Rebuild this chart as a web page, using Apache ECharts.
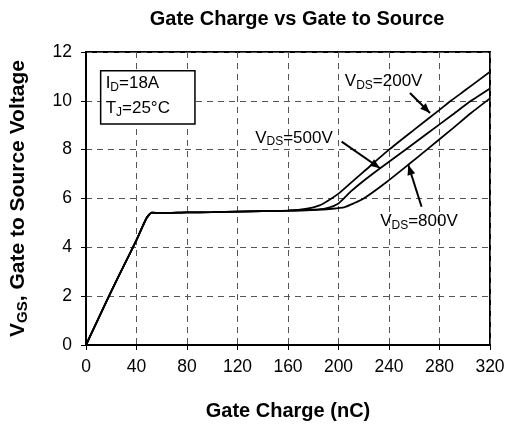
<!DOCTYPE html>
<html>
<head>
<meta charset="utf-8">
<script src="https://cdn.jsdelivr.net/npm/echarts@6/dist/echarts.min.js"></script>
<style>
  html, body { margin: 0; padding: 0; background: #fff; }
  #main { width: 509px; height: 425px; }
</style>
</head>
<body>
<div id="main"></div>
<script>
// shared part: turn-on ramp and Miller plateau
const baseQ = [0, 10, 20, 30, 40, 48, 52, 60, 80, 100, 120, 140, 160];
const baseV = [0, 1.1, 2.2, 3.25, 4.3, 5.2, 5.42, 5.4, 5.43, 5.44, 5.46, 5.48, 5.5];

// tails after the plateau, one per VDS
const q200 = [175, 185, 192, 200, 210, 220, 240, 260, 280, 289, 300, 320];
const v200 = [5.58, 5.72, 5.92, 6.2, 6.65, 7.1, 8.0, 8.82, 9.63, 10.0, 10.42, 11.19];
const q500 = [180, 190, 200, 210, 220, 233, 253, 270, 290, 305, 320];
const v500 = [5.54, 5.6, 5.8, 6.3, 6.73, 7.24, 8.0, 8.65, 9.42, 10.0, 10.51];
const q800 = [180, 195, 205, 212, 220, 235, 255, 270, 290, 305, 320];
const v800 = [5.53, 5.58, 5.65, 5.8, 6.0, 6.55, 7.37, 8.0, 8.85, 9.5, 10.1];

const xTicks = [0, 320, 40];   // min, max, step
const yTicks = [0, 12, 2];

// annotation labels: text, anchor [q, v], arrow from/to [q, v]
const notes = [
  { sub: 'DS', val: '=200V', at: [205, 10.78], from: [256.6, 10.32], to: [272.5, 9.5] },
  { sub: 'DS', val: '=500V', at: [134, 8.48], from: [202.5, 8.33], to: [232.9, 7.24] },
  { sub: 'DS', val: '=800V', at: [233, 5.05], from: [265.8, 5.66], to: [255.3, 7.37] }
];

function pairs(qs, vs) {
  return qs.map((q, i) => [q, vs[i]]);
}

const FONT = 'Liberation Sans, Arial, sans-serif';
const chart = echarts.init(document.getElementById('main'));

function curve(name, qs, vs) {
  return {
    name: name,
    type: 'line',
    showSymbol: false,
    smooth: 0.2,
    data: pairs(baseQ, baseV).concat(pairs(qs, vs)),
    lineStyle: { color: '#000', width: 1.8 },
    animation: false
  };
}

const subRich = {
  b: { fontSize: 17, fontFamily: FONT, color: '#000' },
  s: { fontSize: 12, fontFamily: FONT, color: '#000', verticalAlign: 'bottom', padding: [8, 0, 0, 0] }
};

const option = {
  animation: false,
  title: {
    text: 'Gate Charge vs Gate to Source',
    left: 292,
    textAlign: 'center',
    top: 4,
    textStyle: { fontFamily: FONT, fontSize: 20, fontWeight: 'bold', color: '#000' }
  },
  grid: {
    left: 86, right: 19, top: 52, bottom: 80,
    outerBoundsMode: 'none',
    show: true, borderColor: '#000', borderWidth: 2
  },
  xAxis: {
    type: 'value',
    min: xTicks[0], max: xTicks[1], interval: xTicks[2],
    name: 'Gate Charge (nC)',
    nameLocation: 'middle',
    nameGap: 56,
    nameTextStyle: { fontFamily: FONT, fontSize: 20, fontWeight: 'bold', color: '#000' },
    axisLine: { lineStyle: { color: '#000', width: 2 } },
    axisTick: { show: true, length: 5, lineStyle: { color: '#000', width: 1 } },
    axisLabel: { fontFamily: FONT, fontSize: 17.5, color: '#000', margin: 13 },
    splitLine: { lineStyle: { color: '#555', type: [6, 5], width: 1 } }
  },
  yAxis: {
    type: 'value',
    min: yTicks[0], max: yTicks[1], interval: yTicks[2],
    name: '{b|V}{s|GS}{b|, Gate to Source Voltage}',
    nameLocation: 'middle',
    nameRotate: 90,
    nameGap: 56,
    nameTextStyle: {
      rich: {
        b: { fontSize: 21, fontFamily: FONT, fontWeight: 'bold', color: '#000' },
        s: { fontSize: 15, fontFamily: FONT, fontWeight: 'bold', color: '#000', verticalAlign: 'bottom', padding: [9, 0, 0, 0] }
      }
    },
    axisLine: { show: true, lineStyle: { color: '#000', width: 2 } },
    axisTick: { show: true, length: 5, lineStyle: { color: '#000', width: 1 } },
    axisLabel: { fontFamily: FONT, fontSize: 17.5, color: '#000', margin: 14 },
    splitLine: { lineStyle: { color: '#555', type: [6, 5], width: 1 } }
  },
  series: [
    curve('200V', q200, v200),
    curve('500V', q500, v500),
    curve('800V', q800, v800)
  ]
};
chart.setOption(option);

// annotations placed through the axes' own scale
function px(p) { return chart.convertToPixel({ gridIndex: 0 }, p); }

const graphics = [];
notes.forEach(n => {
  const a = px(n.at), f = px(n.from), t = px(n.to);
  graphics.push({
    type: 'text', x: a[0], y: a[1],
    style: { text: '{b|V}{s|' + n.sub + '}{b|' + n.val + '}', rich: subRich, verticalAlign: 'middle' },
    silent: true
  });
  graphics.push({
    type: 'line', shape: { x1: f[0], y1: f[1], x2: t[0], y2: t[1] },
    style: { stroke: '#000', lineWidth: 2 }
  });
  const ang = Math.atan2(t[1] - f[1], t[0] - f[0]);
  const L = 10, W = 4;
  const bx = t[0] - L * Math.cos(ang), by = t[1] - L * Math.sin(ang);
  graphics.push({
    type: 'polygon',
    shape: { points: [t, [bx + W * Math.sin(ang), by - W * Math.cos(ang)], [bx - W * Math.sin(ang), by + W * Math.cos(ang)]] },
    style: { fill: '#000' }
  });
});

// condition box
const b0 = px([11.6, 11.23]), b1 = px([86.3, 9.05]);
graphics.push({
  type: 'rect',
  shape: { x: b0[0], y: b0[1], width: b1[0] - b0[0], height: b1[1] - b0[1] },
  style: { fill: '#fff', stroke: '#000', lineWidth: 1.5 }
});
graphics.push({
  type: 'text', x: b0[0] + 5, y: b0[1] + 13,
  style: { text: '{b|I}{s|D}{b|=18A}', rich: subRich, verticalAlign: 'middle' }
});
graphics.push({
  type: 'text', x: b0[0] + 5, y: b0[1] + 38,
  style: { text: '{b|T}{s|J}{b|=25°C}', rich: subRich, verticalAlign: 'middle' }
});

chart.setOption({ graphic: graphics });
</script>
</body>
</html>
